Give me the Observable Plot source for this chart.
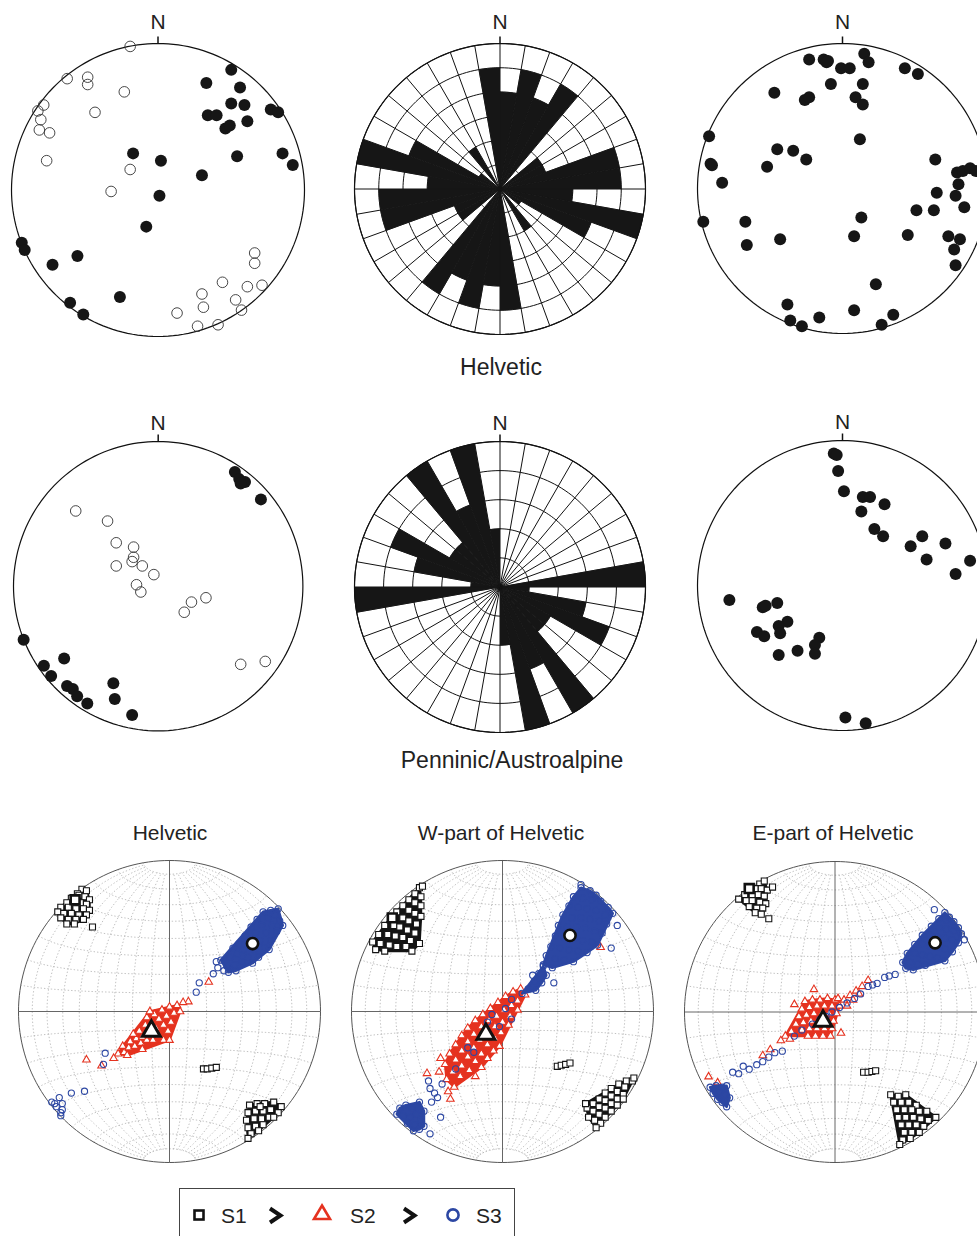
<!DOCTYPE html>
<html><head><meta charset="utf-8">
<script src="https://cdn.jsdelivr.net/npm/d3@7"></script>
<script src="https://cdn.jsdelivr.net/npm/@observablehq/plot@0.6"></script>
<style>
html,body{margin:0;padding:0;width:977px;height:1236px;overflow:hidden;background:#fff;}
body{position:relative;font-family:"Liberation Sans",Arial,sans-serif;color:#222;}
.lbl{position:absolute;white-space:nowrap;line-height:1;transform:translate(-50%,-50%);}
.leg{position:absolute;white-space:nowrap;line-height:1;transform:translateY(-50%);font-size:21px;}
svg.ic{position:absolute;overflow:visible;}
</style></head><body>
<script>
// ---------------- DATA ----------------
// Top row (Helvetic) — projected positions in the net (east, north), unit radius
const helvPolesFilled = [[0.50,0.82],[0.33,0.73],[0.56,0.70],[0.50,0.59],[0.59,0.58],[0.34,0.51],[0.40,0.51],[0.46,0.42],[0.49,0.44],[0.61,0.47],[0.77,0.55],[0.82,0.53],[0.85,0.25],[0.92,0.17],[0.54,0.23],[-0.17,0.25],[0.02,0.20],[0.30,0.10],[0.01,-0.04],[-0.08,-0.25],[-0.93,-0.36],[-0.91,-0.41],[-0.55,-0.45],[-0.72,-0.51],[-0.60,-0.77],[-0.51,-0.85],[-0.26,-0.73]];
const helvPolesOpen = [[-0.19,0.98],[-0.62,0.76],[-0.48,0.77],[-0.48,0.72],[-0.23,0.67],[-0.78,0.58],[-0.82,0.54],[-0.80,0.48],[-0.81,0.41],[-0.74,0.39],[-0.43,0.53],[-0.76,0.20],[-0.19,0.14],[-0.32,-0.01],[0.66,-0.43],[0.66,-0.50],[0.44,-0.63],[0.61,-0.66],[0.71,-0.65],[0.30,-0.71],[0.31,-0.80],[0.53,-0.75],[0.57,-0.82],[0.13,-0.84],[0.27,-0.93],[0.41,-0.92]];
const helvLineations = [[-0.23,0.89],[-0.13,0.89],[-0.11,0.87],[-0.10,0.88],[-0.01,0.83],[0.05,0.83],[0.15,0.93],[0.18,0.87],[0.43,0.83],[0.52,0.79],[-0.08,0.72],[0.14,0.72],[-0.47,0.66],[-0.26,0.61],[-0.23,0.63],[0.09,0.63],[0.14,0.58],[0.12,0.34],[-0.92,0.36],[-0.91,0.17],[-0.90,0.16],[-0.83,0.04],[-0.45,0.27],[-0.34,0.26],[-0.25,0.20],[-0.52,0.15],[0.64,0.20],[0.79,0.11],[0.83,0.12],[0.88,0.14],[0.92,0.12],[0.80,0.03],[0.65,-0.03],[0.78,-0.05],[0.51,-0.15],[0.63,-0.15],[0.84,-0.13],[-0.96,-0.23],[-0.67,-0.23],[-0.66,-0.39],[-0.43,-0.35],[0.13,-0.20],[0.08,-0.33],[0.45,-0.32],[0.73,-0.33],[0.81,-0.35],[0.77,-0.42],[0.78,-0.53],[0.23,-0.66],[-0.38,-0.80],[-0.36,-0.91],[-0.28,-0.95],[-0.16,-0.89],[0.08,-0.84],[0.35,-0.87],[0.27,-0.94]];
// Rose diagrams: counts per 10° sector from 0° to 180° (axial data, repeated for 180°–360°)
const roseHelvetic = [4,5,4,5,0,2,2,5,5,3,6,4,1,0,2,0,0,5];
const roseHelveticRings = 6;
const rosePenninic = [0,0,0,0,0,0,0,0,5,1,3,4,2,2,5,3,5,2];
const rosePenninicRings = 5;
// Middle row (Penninic/Austroalpine)
const pennPolesFilled = [[0.53,0.79],[0.56,0.74],[0.60,0.72],[0.57,0.71],[0.71,0.60],[-0.93,-0.37],[-0.65,-0.50],[-0.79,-0.55],[-0.74,-0.62],[-0.63,-0.69],[-0.59,-0.71],[-0.56,-0.76],[-0.49,-0.81],[-0.31,-0.67],[-0.30,-0.78],[-0.18,-0.89]];
const pennPolesOpen = [[-0.57,0.52],[-0.35,0.45],[-0.29,0.30],[-0.17,0.27],[-0.17,0.20],[-0.18,0.17],[-0.29,0.14],[-0.11,0.14],[-0.03,0.08],[-0.15,0.01],[-0.12,-0.04],[0.33,-0.08],[0.23,-0.11],[0.18,-0.18],[0.57,-0.54],[0.74,-0.52]];
const pennLineations = [[-0.06,0.91],[-0.04,0.90],[-0.03,0.79],[0.01,0.65],[0.14,0.61],[0.19,0.61],[0.29,0.56],[0.13,0.51],[0.22,0.39],[0.28,0.34],[0.47,0.27],[0.55,0.34],[0.58,0.18],[0.71,0.29],[0.78,0.08],[0.88,0.17],[-0.78,-0.10],[-0.55,-0.15],[-0.53,-0.14],[-0.45,-0.12],[-0.38,-0.25],[-0.44,-0.28],[-0.43,-0.33],[-0.59,-0.32],[-0.54,-0.35],[-0.16,-0.36],[-0.19,-0.41],[-0.19,-0.47],[-0.31,-0.45],[-0.44,-0.48],[0.02,-0.91],[0.16,-0.95]];

// Bottom row: principal stress axes (S1 squares, S2 triangles, S3 circles)
// Helvetic
const helvS1NW = [[-0.58,0.81],[-0.55,0.80],[-0.61,0.78],[-0.65,0.75],[-0.60,0.77],[-0.56,0.76],[-0.53,0.74],[-0.68,0.72],[-0.64,0.72],[-0.59,0.72],[-0.55,0.71],[-0.72,0.69],[-0.67,0.69],[-0.62,0.68],[-0.57,0.68],[-0.53,0.67],[-0.74,0.66],[-0.70,0.65],[-0.65,0.65],[-0.60,0.64],[-0.55,0.64],[-0.72,0.62],[-0.67,0.61],[-0.62,0.61],[-0.57,0.61],[-0.68,0.58],[-0.63,0.58]];
const helvS1SE = [[0.53,-0.62],[0.58,-0.61],[0.63,-0.61],[0.69,-0.60],[0.74,-0.63],[0.52,-0.67],[0.57,-0.66],[0.62,-0.66],[0.67,-0.65],[0.72,-0.67],[0.51,-0.72],[0.56,-0.71],[0.61,-0.71],[0.66,-0.70],[0.52,-0.77],[0.57,-0.76],[0.62,-0.75],[0.54,-0.81],[0.59,-0.79],[0.52,-0.84],[0.69,-0.70],[0.60,-0.63]];
const helvS1Other = [[-0.51,0.56],[0.225,-0.38],[0.25,-0.38],[0.28,-0.375],[0.31,-0.37]];
const helvS2Core = [[-0.34,-0.28],[-0.30,-0.27],[-0.31,-0.23],[-0.27,-0.24],[-0.26,-0.20],[-0.23,-0.23],[-0.22,-0.18],[-0.19,-0.21],[-0.24,-0.15],[-0.20,-0.13],[-0.18,-0.17],[-0.15,-0.19],[-0.16,-0.09],[-0.13,-0.16],[-0.11,-0.19],[-0.15,-0.04],[-0.12,-0.07],[-0.09,-0.11],[-0.07,-0.16],[-0.04,-0.19],[-0.10,-0.02],[-0.07,-0.05],[-0.04,-0.09],[-0.01,-0.13],[-0.05,0.01],[-0.02,-0.03],[0.01,-0.07],[0.00,0.03],[0.03,-0.01],[0.05,0.04],[0.07,0.00],[-0.18,-0.25],[-0.28,-0.29],[-0.13,0.00],[0.00,-0.19]];
const helvS2Other = [[-0.55,-0.32],[-0.45,-0.36],[0.125,0.065],[0.26,0.195],[-0.37,-0.31],[0.09,0.06]];
const helvS3Core = [[0.34,0.34],[0.38,0.30],[0.40,0.36],[0.43,0.31],[0.42,0.42],[0.45,0.38],[0.48,0.33],[0.46,0.45],[0.49,0.41],[0.52,0.36],[0.50,0.50],[0.53,0.46],[0.56,0.41],[0.59,0.36],[0.54,0.56],[0.57,0.52],[0.60,0.47],[0.63,0.42],[0.58,0.61],[0.61,0.57],[0.64,0.52],[0.67,0.47],[0.62,0.66],[0.65,0.62],[0.68,0.57],[0.71,0.53],[0.67,0.67],[0.70,0.64],[0.73,0.60],[0.75,0.57],[0.72,0.68],[0.39,0.26],[0.55,0.32],[0.66,0.41],[0.44,0.27]];
const helvS3Other = [[0.29,0.25],[0.32,0.29],[0.197,0.19],[0.177,0.128],[-0.426,-0.276],[-0.437,-0.35],[-0.563,-0.528],[-0.65,-0.54],[-0.78,-0.60],[-0.73,-0.57],[-0.71,-0.61],[-0.75,-0.63],[-0.71,-0.65],[-0.72,-0.67],[-0.72,-0.69],[-0.76,-0.61],[0.31,0.33],[0.36,0.27]];
const helvMeans = [[-0.625,0.74],[-0.12,-0.13],[0.55,0.45]];
// W-part of Helvetic
const wS1NW = [[-0.55,0.82],[-0.58,0.78],[-0.54,0.76],[-0.62,0.74],[-0.58,0.72],[-0.54,0.70],[-0.66,0.70],[-0.70,0.66],[-0.62,0.67],[-0.58,0.65],[-0.54,0.63],[-0.74,0.62],[-0.66,0.62],[-0.62,0.60],[-0.57,0.58],[-0.78,0.57],[-0.72,0.57],[-0.68,0.56],[-0.63,0.54],[-0.58,0.52],[-0.82,0.51],[-0.76,0.51],[-0.71,0.50],[-0.66,0.49],[-0.61,0.47],[-0.55,0.45],[-0.86,0.46],[-0.81,0.45],[-0.75,0.44],[-0.70,0.43],[-0.64,0.43],[-0.60,0.40],[-0.84,0.41],[-0.78,0.40]];
const wS1SE = [[0.82,-0.46],[0.86,-0.46],[0.77,-0.48],[0.81,-0.50],[0.72,-0.51],[0.76,-0.53],[0.80,-0.55],[0.68,-0.54],[0.72,-0.56],[0.76,-0.58],[0.80,-0.58],[0.64,-0.58],[0.68,-0.59],[0.72,-0.61],[0.76,-0.62],[0.60,-0.61],[0.64,-0.63],[0.68,-0.64],[0.72,-0.66],[0.56,-0.64],[0.60,-0.66],[0.64,-0.68],[0.68,-0.70],[0.57,-0.70],[0.61,-0.72],[0.65,-0.74],[0.62,-0.77],[0.55,-0.61]];
const wS1Other = [[-0.53,0.83],[0.363,-0.363],[0.389,-0.356],[0.418,-0.350],[0.447,-0.341],[0.87,-0.44]];
const wS2Core = [[0.12,0.15],[0.15,0.11],[0.07,0.13],[0.10,0.07],[0.02,0.10],[0.06,0.04],[0.10,0.01],[-0.03,0.06],[0.01,0.01],[0.05,-0.03],[-0.08,0.02],[-0.04,-0.03],[0.00,-0.07],[0.04,-0.09],[-0.13,-0.02],[-0.09,-0.06],[-0.05,-0.10],[-0.01,-0.14],[-0.18,-0.06],[-0.14,-0.10],[-0.10,-0.14],[-0.05,-0.18],[-0.02,-0.23],[-0.23,-0.11],[-0.19,-0.15],[-0.15,-0.19],[-0.10,-0.22],[-0.06,-0.26],[-0.27,-0.16],[-0.23,-0.20],[-0.19,-0.24],[-0.14,-0.28],[-0.10,-0.31],[-0.31,-0.22],[-0.27,-0.26],[-0.23,-0.30],[-0.18,-0.33],[-0.14,-0.37],[-0.35,-0.28],[-0.31,-0.32],[-0.27,-0.36],[-0.22,-0.39],[-0.38,-0.35],[-0.33,-0.40],[-0.28,-0.43],[-0.37,-0.45],[-0.32,-0.50]];
const wS2Other = [[-0.50,-0.41],[-0.41,-0.31],[-0.345,-0.58],[0.65,0.425],[0.63,0.56],[-0.555,-0.67],[-0.42,-0.40],[-0.36,-0.53],[-0.18,-0.43]];
const wS3Core = [[0.52,0.82],[0.58,0.80],[0.62,0.77],[0.47,0.76],[0.53,0.75],[0.59,0.74],[0.65,0.73],[0.70,0.69],[0.44,0.70],[0.50,0.69],[0.56,0.68],[0.62,0.67],[0.68,0.64],[0.73,0.65],[0.40,0.64],[0.46,0.62],[0.52,0.62],[0.58,0.61],[0.64,0.60],[0.69,0.58],[0.37,0.57],[0.43,0.56],[0.49,0.56],[0.55,0.55],[0.61,0.53],[0.66,0.52],[0.35,0.50],[0.41,0.49],[0.47,0.48],[0.53,0.47],[0.59,0.46],[0.63,0.44],[0.32,0.43],[0.38,0.42],[0.44,0.41],[0.50,0.40],[0.56,0.39],[0.29,0.37],[0.35,0.35],[0.41,0.34],[0.47,0.33],[0.27,0.31],[0.33,0.29]];
const wS3Tail = [[0.27,0.30],[0.24,0.25],[0.29,0.24],[0.21,0.20],[0.26,0.19],[0.17,0.15],[0.22,0.14],[0.13,0.12]];
const wS3SW = [[-0.68,-0.64],[-0.64,-0.62],[-0.60,-0.64],[-0.66,-0.69],[-0.61,-0.70],[-0.57,-0.68],[-0.63,-0.74],[-0.58,-0.75],[-0.54,-0.72],[-0.59,-0.79],[-0.55,-0.78],[-0.52,-0.66],[-0.55,-0.60],[-0.70,-0.68],[-0.52,-0.76]];
const wS3Other = [[-0.10,-0.07],[-0.07,-0.02],[-0.02,-0.10],[0.06,-0.05],[-0.23,-0.24],[-0.19,-0.27],[-0.31,-0.38],[-0.48,-0.51],[-0.49,-0.46],[-0.43,-0.57],[-0.41,-0.70],[-0.48,-0.81],[-0.47,-0.60],[-0.45,-0.54],[-0.40,-0.48],[0.52,0.84],[0.34,0.19],[0.02,0.02],[0.06,0.08],[0.76,0.57],[0.72,0.42],[0.20,0.24]];
const wMeans = [[-0.73,0.62],[-0.11,-0.15],[0.447,0.504]];
// E-part of Helvetic
const eS1NW = [[-0.50,0.85],[-0.47,0.87],[-0.53,0.82],[-0.49,0.82],[-0.45,0.81],[-0.60,0.78],[-0.55,0.78],[-0.51,0.78],[-0.47,0.77],[-0.64,0.75],[-0.59,0.74],[-0.55,0.74],[-0.50,0.73],[-0.46,0.72],[-0.57,0.70],[-0.52,0.69],[-0.48,0.69],[-0.53,0.66],[-0.49,0.65]];
const eS1SE = [[0.37,-0.55],[0.42,-0.56],[0.47,-0.55],[0.39,-0.60],[0.44,-0.60],[0.49,-0.60],[0.54,-0.62],[0.41,-0.65],[0.46,-0.65],[0.51,-0.65],[0.56,-0.66],[0.61,-0.66],[0.42,-0.70],[0.47,-0.70],[0.52,-0.70],[0.57,-0.71],[0.62,-0.72],[0.67,-0.70],[0.44,-0.75],[0.49,-0.75],[0.54,-0.75],[0.59,-0.76],[0.46,-0.80],[0.51,-0.80],[0.56,-0.80],[0.45,-0.85],[0.50,-0.84],[0.43,-0.88]];
const eS1Other = [[-0.415,0.83],[-0.44,0.62],[0.19,-0.40],[0.22,-0.40],[0.245,-0.395],[0.27,-0.39]];
const eS2Core = [[-0.20,0.07],[-0.15,0.08],[-0.10,0.08],[-0.05,0.09],[0.00,0.08],[-0.22,0.02],[-0.17,0.03],[-0.12,0.04],[-0.07,0.04],[-0.02,0.04],[0.03,0.04],[-0.24,-0.03],[-0.19,-0.02],[-0.14,-0.01],[-0.09,-0.01],[-0.04,-0.01],[0.01,-0.01],[-0.26,-0.08],[-0.21,-0.07],[-0.16,-0.06],[-0.11,-0.06],[-0.06,-0.06],[-0.01,-0.06],[-0.22,-0.12],[-0.17,-0.11],[-0.12,-0.11],[-0.07,-0.11],[-0.02,-0.11],[-0.18,-0.16],[-0.13,-0.16],[-0.08,-0.16],[-0.03,-0.16],[-0.29,-0.13],[-0.33,-0.16]];
const eS2Other = [[0.02,0.09],[0.06,0.08],[0.10,0.11],[0.14,0.14],[0.18,0.17],[0.22,0.21],[0.08,0.04],[0.12,0.08],[0.16,0.12],[-0.14,0.15],[-0.36,-0.19],[-0.43,-0.25],[-0.48,-0.29],[-0.84,-0.43],[-0.78,-0.47],[-0.30,-0.18],[-0.27,0.05],[0.04,-0.14]];
const eS3Core = [[0.73,0.66],[0.76,0.63],[0.69,0.62],[0.74,0.61],[0.79,0.60],[0.82,0.56],[0.64,0.57],[0.69,0.56],[0.74,0.55],[0.79,0.54],[0.84,0.52],[0.58,0.51],[0.63,0.51],[0.68,0.50],[0.73,0.49],[0.78,0.48],[0.82,0.46],[0.53,0.45],[0.58,0.45],[0.63,0.44],[0.68,0.43],[0.73,0.42],[0.78,0.40],[0.48,0.39],[0.53,0.39],[0.58,0.38],[0.63,0.37],[0.68,0.36],[0.73,0.34],[0.45,0.33],[0.50,0.33],[0.55,0.32],[0.60,0.31],[0.52,0.28],[0.47,0.29]];
const eS3SW = [[-0.83,-0.50],[-0.79,-0.49],[-0.75,-0.50],[-0.72,-0.49],[-0.81,-0.54],[-0.77,-0.53],[-0.73,-0.55],[-0.78,-0.58],[-0.75,-0.60],[-0.72,-0.63],[-0.70,-0.57]];
const eS3Other = [[0.40,0.25],[0.36,0.24],[0.33,0.23],[0.28,0.19],[0.25,0.18],[0.22,0.17],[0.17,0.12],[0.13,0.09],[0.08,0.06],[0.03,0.03],[-0.02,0.00],[-0.06,-0.03],[-0.10,-0.05],[-0.15,-0.08],[-0.22,-0.12],[-0.27,-0.16],[-0.35,-0.26],[-0.40,-0.27],[-0.44,-0.30],[-0.48,-0.33],[-0.52,-0.35],[-0.57,-0.38],[-0.61,-0.36],[-0.64,-0.41],[-0.68,-0.40],[0.66,0.68],[0.86,0.48]];
const eMeans = [[-0.57,0.82],[-0.08,-0.06],[0.665,0.46]];

const rowLabels = ["Helvetic", "Penninic/Austroalpine"];
const netTitles = ["Helvetic", "W-part of Helvetic", "E-part of Helvetic"];
const legendLabels = ["S1", "S2", "S3"];

// ---------------- DRAWING ----------------
const deg = Math.PI / 180;
const M = 40;
const FONT = '"Liberation Sans", Arial, sans-serif';
const px = d => d[0], py = d => d[1];
const circlePts = d3.range(0, 361, 2).map(a => ({x: Math.sin(a * deg), y: Math.cos(a * deg)}));

function frame(R, marks) {
  const s = 2 * R + 2 * M;
  return Plot.plot({
    width: s, height: s, margin: M,
    x: {domain: [-1, 1], axis: null}, y: {domain: [-1, 1], axis: null},
    style: {background: "none", overflow: "visible", fontFamily: FONT},
    marks
  });
}
function put(svg, cx, cy, R) {
  svg.style.position = "absolute";
  svg.style.left = (cx - R - M) + "px";
  svg.style.top = (cy - R - M) + "px";
  svg.style.maxWidth = "none";
  document.body.appendChild(svg);
}
function northMarks(R, dyN) {
  return [
    Plot.link([{x: 0, y1: 1, y2: 1 + 7 / R}], {x1: "x", x2: "x", y1: "y1", y2: "y2", stroke: "#111", strokeWidth: 1.5}),
    Plot.text([{x: 0, y: 1}], {x: "x", y: "y", text: () => "N", dy: dyN, fontSize: 21, fill: "#222"})
  ];
}
function stereo(cx, cy, R, filled, open, dyN) {
  const marks = [
    Plot.line(circlePts, {x: "x", y: "y", stroke: "#111", strokeWidth: 1.2}),
    ...northMarks(R, dyN)
  ];
  if (open) marks.push(Plot.dot(open, {x: px, y: py, r: 5.3, stroke: "#333", strokeWidth: 0.9, fill: "none"}));
  marks.push(Plot.dot(filled, {x: px, y: py, r: 6, fill: "#161616"}));
  put(frame(R, marks), cx, cy, R);
}
function rose(cx, cy, R, counts, rings, dyN) {
  const full = counts.concat(counts);
  const n = full.length, step = 360 / n;
  const ringRows = [];
  for (let k = 1; k <= rings; k++) circlePts.forEach(p => ringRows.push({id: k, x: p.x * k / rings, y: p.y * k / rings}));
  const spokes = d3.range(n).map(i => ({x2: Math.sin(i * step * deg), y2: Math.cos(i * step * deg)}));
  const sectors = [];
  full.forEach((c, i) => {
    if (!c) return;
    const r = c / rings;
    sectors.push({id: i, x: 0, y: 0});
    for (let a = i * step; a <= (i + 1) * step + 1e-9; a += 1) sectors.push({id: i, x: r * Math.sin(a * deg), y: r * Math.cos(a * deg)});
  });
  const marks = [
    Plot.line(ringRows, {x: "x", y: "y", z: "id", stroke: "#111", strokeWidth: 1}),
    Plot.link(spokes, {x1: () => 0, y1: () => 0, x2: "x2", y2: "y2", stroke: "#111", strokeWidth: 1}),
    Plot.line(sectors, {x: "x", y: "y", z: "id", fill: "#161616", stroke: "#161616", strokeWidth: 0.5}),
    Plot.line(circlePts, {x: "x", y: "y", stroke: "#111", strokeWidth: 1.2}),
    ...northMarks(R, dyN)
  ];
  put(frame(R, marks), cx, cy, R);
}

// Schmidt (equal-area) net grid
function schmidt(lon, lat) {
  const k = Math.sqrt(1 / (1 + Math.cos(lat * deg) * Math.cos(lon * deg)));
  return {x: k * Math.cos(lat * deg) * Math.sin(lon * deg), y: k * Math.sin(lat * deg)};
}
const netGrid = [];
for (let lon = -80; lon <= 80; lon += 10) { if (!lon) continue; for (let lat = -80; lat <= 80; lat += 2) netGrid.push({id: "m" + lon, ...schmidt(lon, lat)}); }
for (let lat = -80; lat <= 80; lat += 10) { if (!lat) continue; for (let lon = -90; lon <= 90; lon += 2) netGrid.push({id: "p" + lat, ...schmidt(lon, lat)}); }
const cross = [{x1: -1, y1: 0, x2: 1, y2: 0}, {x1: 0, y1: -1, x2: 0, y2: 1}];

const STY = {
  S1: {symbol: "square", r: 3.4, color: "#141414", fill: "white", sw: 1.1, big: 5, bigSw: 2.6},
  S2: {symbol: "triangle", r: 2.8, color: "#e5321f", fill: "white", sw: 1.1, big: 6.6, bigSw: 3},
  S3: {symbol: "circle", r: 3.1, color: "#2c47a3", fill: "none", sw: 1.1, big: 5.6, bigSw: 2.6}
};
function net(cx, cy, R, groups, means) {
  const marks = [
    Plot.line(netGrid, {x: "x", y: "y", z: "id", stroke: "#a6a6a6", strokeWidth: 0.7, strokeDasharray: "0.6,2.8"}),
    Plot.link(cross, {x1: "x1", y1: "y1", x2: "x2", y2: "y2", stroke: "#555", strokeWidth: 0.9}),
    Plot.line(circlePts, {x: "x", y: "y", stroke: "#555", strokeWidth: 1})
  ];
  for (const g of groups) {
    const st = STY[g.s];
    if (g.hull) marks.push(Plot.hull(g.pts, {x: px, y: py, fill: st.color, stroke: st.color, strokeWidth: 2.5, strokeLinejoin: "round"}));
    marks.push(Plot.dot(g.pts, {x: px, y: py, symbol: st.symbol, r: st.r, stroke: st.color, fill: st.fill, strokeWidth: st.sw}));
  }
  ["S1", "S2", "S3"].forEach((k, i) => {
    const st = STY[k];
    marks.push(Plot.dot([means[i]], {x: px, y: py, symbol: st.symbol, r: st.big, fill: "white", stroke: "#111", strokeWidth: st.bigSw}));
  });
  put(frame(R, marks), cx, cy, R);
}

// Row 1 — Helvetic
stereo(157.5, 189, 146.5, helvPolesFilled, helvPolesOpen, -21);
rose(499, 188, 145.5, roseHelvetic, roseHelveticRings, -21);
stereo(841.5, 188, 145, helvLineations, null, -21);
// Row 2 — Penninic/Austroalpine
stereo(158, 585.5, 144.7, pennPolesFilled, pennPolesOpen, -18);
rose(499, 586, 145.5, rosePenninic, rosePenninicRings, -18);
stereo(841.5, 585, 145, pennLineations, null, -18);
// Row 3 — stress inversion results
net(169, 1011, 151, [
  {s: "S1", pts: helvS1NW, hull: true}, {s: "S1", pts: helvS1SE, hull: true}, {s: "S1", pts: helvS1Other},
  {s: "S2", pts: helvS2Core, hull: true}, {s: "S2", pts: helvS2Other},
  {s: "S3", pts: helvS3Core, hull: true}, {s: "S3", pts: helvS3Other}
], helvMeans);
net(502, 1011, 151, [
  {s: "S1", pts: wS1NW, hull: true}, {s: "S1", pts: wS1SE, hull: true}, {s: "S1", pts: wS1Other},
  {s: "S2", pts: wS2Core, hull: true}, {s: "S2", pts: wS2Other},
  {s: "S3", pts: wS3Core, hull: true}, {s: "S3", pts: wS3Tail, hull: true}, {s: "S3", pts: wS3SW, hull: true}, {s: "S3", pts: wS3Other}
], wMeans);
net(834, 1011, 150.5, [
  {s: "S1", pts: eS1NW, hull: true}, {s: "S1", pts: eS1SE, hull: true}, {s: "S1", pts: eS1Other},
  {s: "S2", pts: eS2Core, hull: true}, {s: "S2", pts: eS2Other},
  {s: "S3", pts: eS3Core, hull: true}, {s: "S3", pts: eS3SW, hull: true}, {s: "S3", pts: eS3Other}
], eMeans);

// Text labels
function label(text, x, y, size) {
  const d = document.createElement("div");
  d.className = "lbl"; d.textContent = text;
  d.style.left = x + "px"; d.style.top = y + "px"; d.style.fontSize = size + "px";
  document.body.appendChild(d);
}
label(rowLabels[0], 501, 367, 23);
label(rowLabels[1], 512, 760, 23);
label(netTitles[0], 170, 832, 21);
label(netTitles[1], 501, 832, 21);
label(netTitles[2], 833, 832, 21);

// Legend
const box = document.createElement("div");
Object.assign(box.style, {position: "absolute", left: "179px", top: "1188px", width: "336px", height: "80px", border: "1.5px solid #444", boxSizing: "border-box"});
document.body.appendChild(box);
const NS = "http://www.w3.org/2000/svg";
function icon(x, y, w, h, inner) {
  const s = document.createElementNS(NS, "svg");
  s.setAttribute("class", "ic"); s.setAttribute("width", w); s.setAttribute("height", h);
  s.style.left = x + "px"; s.style.top = y + "px";
  s.innerHTML = inner; document.body.appendChild(s);
}
icon(193, 1209, 12, 12, '<rect x="1.5" y="1.5" width="9" height="9" fill="white" stroke="#111" stroke-width="2.6"/>');
icon(312, 1203, 20, 18, '<polygon points="10,2.5 18,16 2,16" fill="white" stroke="#e5321f" stroke-width="2.6" stroke-linejoin="miter"/>');
icon(446, 1208, 14, 14, '<circle cx="7" cy="7" r="5.6" fill="white" stroke="#2c47a3" stroke-width="2.6"/>');
icon(267, 1206, 18, 20, '<polyline points="3,2.5 13.5,9.5 3,16.5" fill="none" stroke="#111" stroke-width="4"/>');
icon(401, 1206, 18, 20, '<polyline points="3,2.5 13.5,9.5 3,16.5" fill="none" stroke="#111" stroke-width="4"/>');
[[221, 0], [350, 1], [476, 2]].forEach(([x, i]) => {
  const d = document.createElement("div");
  d.className = "leg"; d.textContent = legendLabels[i];
  d.style.left = x + "px"; d.style.top = "1215px";
  document.body.appendChild(d);
});
</script>
</body></html>
